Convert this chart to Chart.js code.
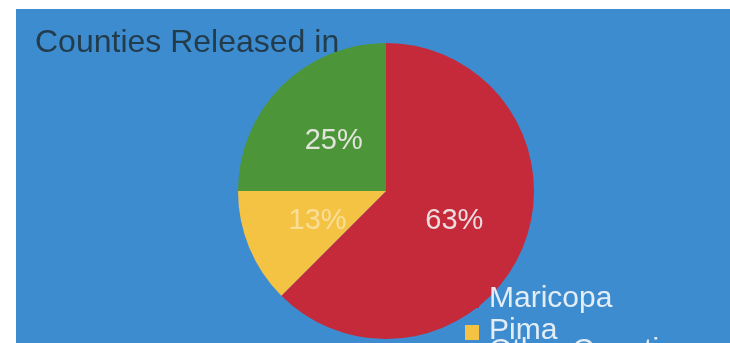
<!DOCTYPE html>
<html>
<head>
<meta charset="utf-8">
<script src="https://cdn.jsdelivr.net/npm/chart.js@4"></script>
<style>
  body { margin: 0; background: #ffffff; }
  canvas { display: block; }
</style>
</head>
<body>
<canvas id="pie" width="730" height="343"></canvas>
<script>
var title = 'Counties Released in';
var counties = ['Maricopa', 'Pima', 'Other Counties'];
var released = [5, 1, 2];
var sliceColors = ['#c52a3b', '#f5c344', '#4c9639'];

// blue sheet behind the pie, title, percent labels and the legend text
var sheet = {
  id: 'sheet',
  beforeDraw: function (chart) {
    var ctx = chart.ctx;
    ctx.save();
    ctx.fillStyle = '#ffffff';
    ctx.fillRect(0, 0, chart.width, chart.height);
    ctx.fillStyle = '#3e8cd0';
    ctx.fillRect(16, 9, chart.width - 16, chart.height - 9);
    ctx.fillStyle = '#233c4c';
    ctx.font = '32px "Liberation Sans", Arial, sans-serif';
    ctx.textBaseline = 'alphabetic';
    ctx.fillText(title, 35, 52);
    ctx.restore();
  },
  afterDatasetsDraw: function (chart) {
    var ctx = chart.ctx;
    var meta = chart.getDatasetMeta(0);
    var total = released.reduce(function (a, b) { return a + b; }, 0);
    ctx.save();
    ctx.font = '29px "Liberation Sans", Arial, sans-serif';
    ctx.textAlign = 'center';
    ctx.textBaseline = 'middle';
    meta.data.forEach(function (arc, i) {
      var p = arc.getCenterPoint();
      ctx.fillStyle = i == 1 ? 'rgba(255,255,255,0.45)' : 'rgba(240,236,236,0.92)';
      ctx.fillText(Math.round(released[i] / total * 100) + '%', p.x, p.y + 2);
    });

    // legend, partly running off the bottom
    var baselines = [307, 339, 359];
    ctx.textAlign = 'left';
    ctx.textBaseline = 'alphabetic';
    ctx.font = '30px "Liberation Sans", Arial, sans-serif';
    for (var i = 0; i < counties.length; i++) {
      ctx.fillStyle = sliceColors[i];
      ctx.fillRect(465, baselines[i] - 14, 14, 15);
      ctx.fillStyle = 'rgba(236,242,248,0.95)';
      ctx.fillText(counties[i], 489, baselines[i]);
    }
    ctx.restore();
  }
};

var chart = new Chart(document.getElementById('pie').getContext('2d'), {
  type: 'pie',
  data: {
    labels: counties,
    datasets: [{
      data: released,
      backgroundColor: sliceColors,
      borderWidth: 0
    }]
  },
  options: {
    responsive: false,
    animation: false,
    layout: {
      padding: { top: 43, bottom: 4, left: 238, right: 196 }
    },
    plugins: {
      legend: { display: false },
      title: { display: false },
      tooltip: { enabled: false }
    }
  },
  plugins: [sheet]
});
</script>
</body>
</html>
